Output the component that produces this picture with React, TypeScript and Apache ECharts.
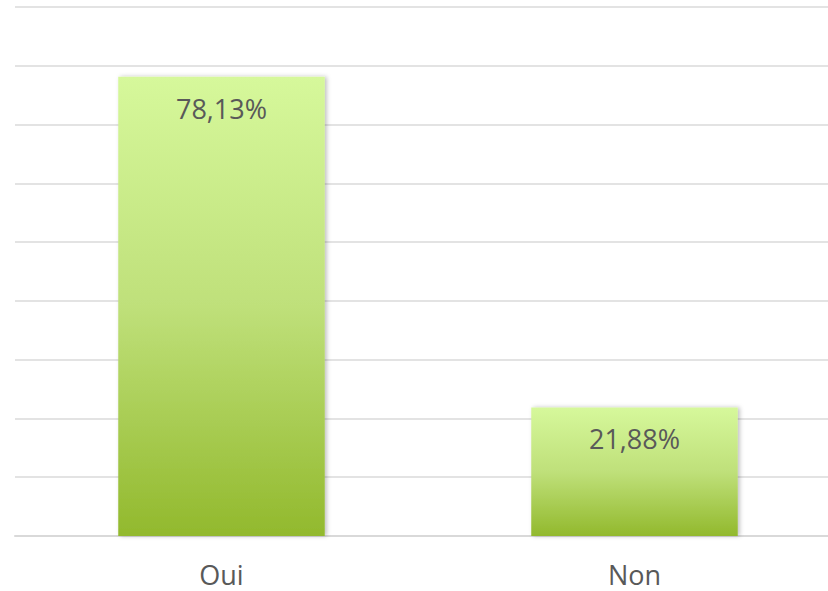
import React, { useEffect, useRef } from "react";
import * as echarts from "echarts";

const categories = ["Oui", "Non"];
const values = [78.13, 21.88];
const labels = ["78,13%", "21,88%"];
const yMin = 0;
const yMax = 90;
const yInterval = 10;

export default function App() {
  const ref = useRef<HTMLDivElement>(null);
  useEffect(() => {
    if (!ref.current) return;
    const chart = echarts.init(ref.current, undefined, { renderer: "svg" });
    const gradient = new echarts.graphic.LinearGradient(0, 0, 0, 1, [
      { offset: 0, color: "#d6f89b" },
      { offset: 0.5, color: "#bfe07a" },
      { offset: 1, color: "#92b92d" },
    ]);
    chart.setOption({
      animation: false,
      backgroundColor: "#ffffff",
      grid: { left: 15, top: 7, width: 826, bottom: 55, containLabel: false },
      xAxis: {
        type: "category",
        data: categories,
        axisLine: { show: true, lineStyle: { color: "#d9d9d9", width: 2 } },
        axisTick: { show: false },
        axisLabel: {
          color: "#595959",
          fontSize: 27,
          fontFamily: "Open Sans",
          margin: 25,
        },
      },
      yAxis: {
        type: "value",
        min: yMin,
        max: yMax,
        interval: yInterval,
        axisLabel: { show: false },
        axisLine: { show: false },
        axisTick: { show: false },
        splitLine: { lineStyle: { color: "#e3e3e3", width: 2 } },
      },
      series: [
        {
          type: "bar",
          data: values.map((v, i) => ({ value: v, label: { formatter: labels[i] } })),
          barWidth: "50%",
          itemStyle: {
            color: gradient,
            shadowColor: "rgba(0,0,0,0.25)",
            shadowBlur: 4,
            shadowOffsetX: 2,
          },
          label: {
            show: true,
            position: "insideTop",
            distance: 18,
            color: "#595959",
            fontSize: 27,
            fontFamily: "Open Sans",
          },
        },
      ],
    });
    return () => chart.dispose();
  }, []);
  return (
    <div
      style={{
        position: "absolute",
        left: 0,
        top: 0,
        width: 828,
        height: 591,
        overflow: "hidden",
      }}
    >
      <div ref={ref} style={{ width: 860, height: 591 }} />
    </div>
  );
}
